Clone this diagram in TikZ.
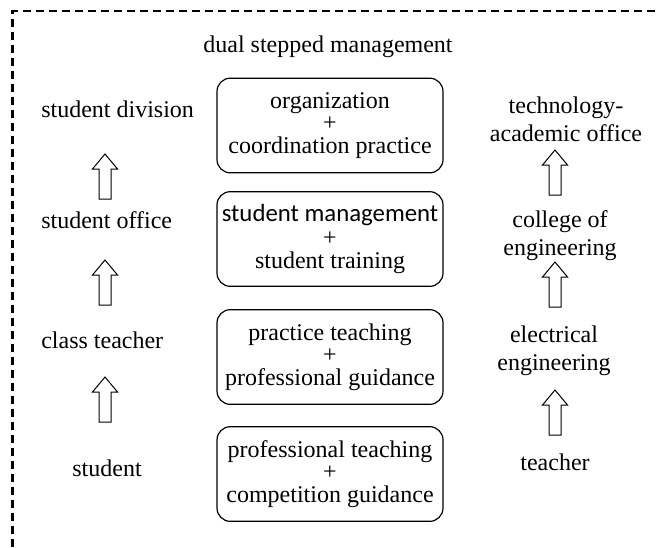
\documentclass[tikz,border=0pt]{standalone}
\usepackage{fontspec}
\setmainfont{Liberation Serif}
\newfontfamily\calibrifont{Carlito}
\usetikzlibrary{positioning, calc}

\begin{document}
\begin{tikzpicture}[x=0.75pt, y=-0.75pt,
    lbl/.style={font=\fontsize{18}{21}\selectfont, inner sep=0pt},
    rlbl/.style={lbl, align=center},
    levelbox/.style={draw, line width=0.9pt, rounded corners=10pt, align=center,
      minimum width=169.5pt, minimum height=71pt, inner sep=0pt,
      font=\fontsize{18}{16.9}\selectfont},
    uparr/.pic={\draw[line width=0.75pt] (-6,0) -- (-6,-30) -- (-12.5,-30) -- (0,-45)
      -- (12.5,-30) -- (6,-30) -- (6,0) -- cycle;}]
  \useasboundingbox (0,0) rectangle (659,547);
  \draw[line width=1.9pt, dash pattern=on 6pt off 3.75pt] (12.7,547) -- (12.7,11) -- (659,11);

  \node[lbl, anchor=base] (title) at (328,52) {dual stepped management};

  \node[levelbox] (org) at (330,125.5) {organization\\+\\coordination practice};
  \node[levelbox, font=\fontsize{18}{17.6}\selectfont] (stm) at (330,239)
    {{\calibrifont\fontsize{18.6}{17.6}\selectfont student management}\\+\\student training};
  \node[levelbox] (prt) at (330,357) {practice teaching\\+\\professional guidance};
  \node[levelbox] (pft) at (330,474) {professional teaching\\+\\competition guidance};

  \node[lbl, anchor=base west] (sdiv) at (41,117) {student division};
  \node[lbl, anchor=base west] (soff) at (41,228) {student office};
  \node[lbl, anchor=base west] (ctch) at (41,348) {class teacher};
  \node[lbl, anchor=base] (stu) at (107,476) {student};
  \pic (la1) at (105,199) {uparr};
  \pic (la2) at (105,305) {uparr};
  \pic (la3) at (105,422) {uparr};

  \node[rlbl, anchor=north] (tao) at (566,96.6) {technology-\\academic office};
  \node[rlbl, anchor=north] (coe) at (560,210.6) {college of\\engineering};
  \node[rlbl, anchor=north] (ee) at (554,325.6) {electrical\\engineering};
  \node[lbl, anchor=base] (tch) at (555,470) {teacher};
  \pic (ra1) at (555,195) {uparr};
  \pic (ra2) at (555,307) {uparr};
  \pic (ra3) at (555,435) {uparr};
\end{tikzpicture}
\end{document}
